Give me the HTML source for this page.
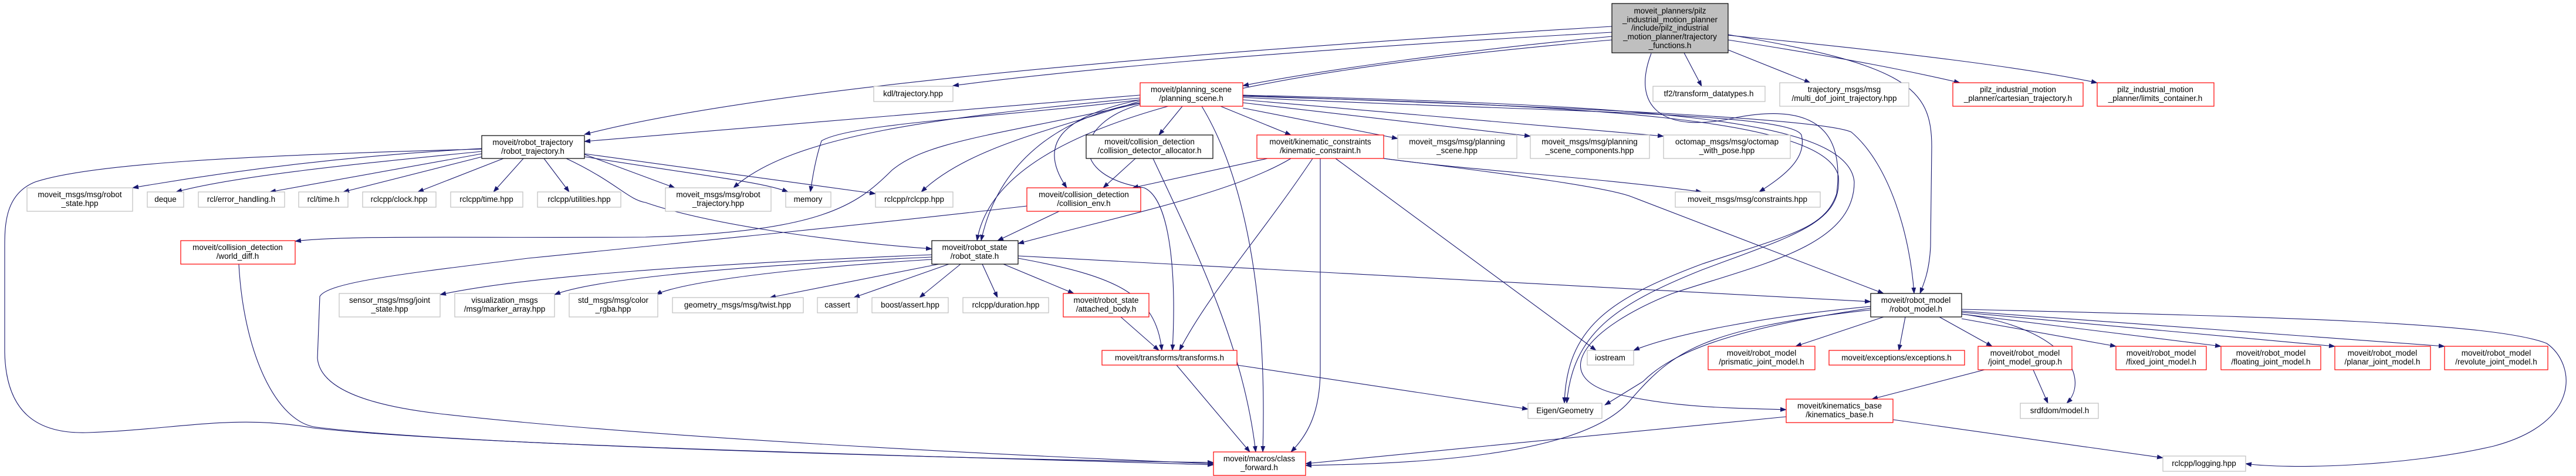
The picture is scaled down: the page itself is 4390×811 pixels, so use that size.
<!DOCTYPE html>
<html><head><meta charset="utf-8"><style>
html,body{margin:0;padding:0;background:#fff;}
svg{display:block;}
text{font-family:"Liberation Sans",sans-serif;font-size:13.5px;fill:#000;text-anchor:middle;}
.e{fill:none;stroke:#191970;stroke-width:1.1;marker-end:url(#a);}
.g{fill:#fff;stroke:#bfbfbf;stroke-width:1.2;}
.r{fill:#fff;stroke:#ff0000;stroke-width:1.2;}
.b{fill:#fff;stroke:#000;stroke-width:1.2;}
</style></head><body>
<svg width="4390" height="811" viewBox="0 0 4390 811" xmlns="http://www.w3.org/2000/svg">
<defs><marker id="a" markerWidth="11" markerHeight="8" refX="10" refY="4" orient="auto" markerUnits="userSpaceOnUse"><path d="M0,0 L11,4 L0,8 z" fill="#191970"/></marker></defs>

<!-- edges -->
<path class="e" d="M2747,45 C2000,90 1300,150 996,229"/>
<path class="e" d="M2747,55 C2300,80 1900,110 1624,146"/>
<path class="e" d="M2747,62 C2500,85 2250,120 2118,146"/>
<path class="e" d="M2747,68 C2150,120 1700,200 1665,410"/>
<path class="e" d="M2870,90 L2900,147"/>
<path class="e" d="M2945,85 L3085,141"/>
<path class="e" d="M2945,59 C3250,110 3292,150 3292,250 L3290,420 C3288,460 3280,480 3272,500"/>
<path class="e" d="M2945,68 C3150,100 3250,120 3340,141"/>
<path class="e" d="M2945,60 C3250,90 3450,115 3574,141"/>
<path class="e" d="M2814,91 C2780,180 2830,230 2960,200 C3120,170 3140,250 3130,330 C3110,390 3050,400 2900,450 C2740,510 2670,560 2666,687"/>

<path class="e" d="M821,253 C600,265 400,290 226,320"/>
<path class="e" d="M821,258 C600,280 400,300 300,327"/>
<path class="e" d="M821,262 L460,327"/>
<path class="e" d="M822,267 L585,327"/>
<path class="e" d="M858,270 L712,327"/>
<path class="e" d="M892,270 L841,327"/>
<path class="e" d="M927,270 L970,327"/>
<path class="e" d="M996,263 L1150,320"/>
<path class="e" d="M996,267 C1200,300 1300,310 1343,327"/>
<path class="e" d="M996,262 L1492,330"/>
<path class="e" d="M965,270 C1050,310 1070,340 1100,345 C1200,380 1400,410 1588,424"/>
<path class="e" d="M821,254 C400,265 150,280 60,310 C10,330 8,380 8,420 L8,600 C10,700 60,740 150,737 C300,732 400,705 533,729 C800,760 1700,780 2068,792"/>
<path class="e" d="M407,450 C415,600 470,720 540,728 C800,760 1700,783 2068,788"/>
<path class="e" d="M1750,351 C1500,380 1200,410 900,440 C700,465 560,480 545,505 L541,610 C545,660 620,690 750,705 C1100,745 1700,775 2068,790"/>

<path class="e" d="M1943,176 C1700,230 1580,240 1520,290 C1460,350 1400,395 1100,404 C800,406 600,400 503,411"/>
<path class="e" d="M1943,167 C1600,200 1350,230 1250,320"/>
<path class="e" d="M1943,170 C1700,200 1450,210 1400,240 C1390,270 1385,300 1381,327"/>
<path class="e" d="M1943,172 C1800,220 1650,250 1570,327"/>
<path class="e" d="M1943,162 L996,241"/>
<path class="e" d="M1943,175 C1800,200 1700,280 1672,410"/>
<path class="e" d="M2015,181 L1975,230"/>
<path class="e" d="M1943,170 C1800,200 1770,250 1818,320"/>
<path class="e" d="M1943,178 C1830,210 1820,300 1950,320 C1995,340 2005,470 1998,597"/>
<path class="e" d="M2048,181 C2120,300 2160,500 2152,770"/>
<path class="e" d="M2080,181 L2200,230"/>
<path class="e" d="M2118,184 L2382,236"/>
<path class="e" d="M2118,175 L2608,232"/>
<path class="e" d="M2118,170 L2835,232"/>
<path class="e" d="M2118,166 C2600,190 3050,190 3070,230 C3080,270 3040,300 2998,327"/>
<path class="e" d="M2118,163 C2600,180 3100,200 3155,225 C3220,280 3255,400 3262,500"/>
<path class="e" d="M2118,164 C2700,180 3110,200 3133,300 C3140,380 3060,400 2900,460 C2750,520 2680,570 2670,687"/>
<path class="e" d="M2118,162 C2800,180 3150,200 3160,310 C3160,420 3000,450 2850,500 C2700,560 2640,640 2750,670 C2850,695 2950,695 3044,698"/>

<path class="e" d="M1935,270 L1880,320"/>
<path class="e" d="M1965,270 C2050,450 2120,600 2140,770"/>
<path class="e" d="M2160,270 L1930,320"/>
<path class="e" d="M2200,270 C2100,330 1900,370 1735,415"/>
<path class="e" d="M2237,270 C2150,400 2060,500 2010,597"/>
<path class="e" d="M2250,270 L2250,630 C2250,700 2230,740 2200,770"/>
<path class="e" d="M2276,270 L2720,597"/>
<path class="e" d="M2358,270 C2500,290 2700,300 2900,327"/>
<path class="e" d="M2358,270 C2600,300 2740,320 2780,335 L3210,500"/>
<path class="e" d="M1805,360 L1700,410"/>

<path class="e" d="M1588,434 C1200,450 900,470 750,502"/>
<path class="e" d="M1588,438 C1200,455 1000,480 945,502"/>
<path class="e" d="M1588,442 C1300,460 1150,485 1118,502"/>
<path class="e" d="M1600,450 L1312,507"/>
<path class="e" d="M1617,450 L1455,507"/>
<path class="e" d="M1637,450 L1567,507"/>
<path class="e" d="M1674,450 L1700,507"/>
<path class="e" d="M1710,450 L1830,500"/>
<path class="e" d="M1735,440 C1900,470 1970,500 1980,597"/>
<path class="e" d="M1735,436 L3188,514"/>
<path class="e" d="M1910,540 L1975,597"/>
<path class="e" d="M2005,622 L2130,770"/>
<path class="e" d="M2108,622 L2604,697"/>

<path class="e" d="M3188,522 C3000,540 2850,570 2784,597"/>
<path class="e" d="M3210,540 L3060,590"/>
<path class="e" d="M3247,540 L3236,597"/>
<path class="e" d="M3305,540 L3395,590"/>
<path class="e" d="M3343,543 L3606,590"/>
<path class="e" d="M3343,535 L3785,590"/>
<path class="e" d="M3343,532 L3979,590"/>
<path class="e" d="M3343,530 L4166,590"/>
<path class="e" d="M3343,535 C3530,560 3560,650 3522,687"/>
<path class="e" d="M3343,527 C3900,540 4250,550 4340,585 C4390,620 4400,720 4250,760 C4100,795 3900,800 3827,790"/>
<path class="e" d="M3188,525 C2950,560 2850,600 2800,650 L2735,690"/>
<path class="e" d="M3188,528 C2900,560 2850,600 2780,680 C2700,780 2400,790 2225,793"/>
<path class="e" d="M3382,630 L3190,680"/>
<path class="e" d="M3465,630 L3490,687"/>
<path class="e" d="M3044,710 L2225,790"/>
<path class="e" d="M3226,715 L3686,780"/>

<!-- nodes -->
<rect x="2747" y="6" width="198" height="84" fill="#bfbfbf" stroke="#000" stroke-width="1.2"/>
<text x="2846" y="23">moveit_planners/pilz</text>
<text x="2846" y="38">_industrial_motion_planner</text>
<text x="2846" y="52">/include/pilz_industrial</text>
<text x="2846" y="67">_motion_planner/trajectory</text>
<text x="2846" y="82">_functions.h</text>

<rect class="b" x="821" y="231" width="175" height="39"/><text x="908" y="247">moveit/robot_trajectory</text><text x="908" y="262">/robot_trajectory.h</text>
<rect class="g" x="46" y="320" width="180" height="40"/><text x="136" y="336">moveit_msgs/msg/robot</text><text x="136" y="351">_state.hpp</text>
<rect class="g" x="251" y="327" width="62" height="26"/><text x="282" y="344">deque</text>
<rect class="g" x="338" y="327" width="147" height="26"/><text x="411" y="344">rcl/error_handling.h</text>
<rect class="g" x="509" y="327" width="84" height="26"/><text x="551" y="344">rcl/time.h</text>
<rect class="g" x="618" y="327" width="125" height="26"/><text x="680" y="344">rclcpp/clock.hpp</text>
<rect class="g" x="768" y="327" width="123" height="26"/><text x="829" y="344">rclcpp/time.hpp</text>
<rect class="g" x="916" y="327" width="142" height="26"/><text x="987" y="344">rclcpp/utilities.hpp</text>
<rect class="g" x="1134" y="320" width="180" height="40"/><text x="1224" y="336">moveit_msgs/msg/robot</text><text x="1224" y="351">_trajectory.hpp</text>
<rect class="g" x="1339" y="327" width="77" height="26"/><text x="1377" y="344">memory</text>
<rect class="g" x="1492" y="327" width="132" height="26"/><text x="1558" y="344">rclcpp/rclcpp.hpp</text>
<rect class="g" x="1489" y="147" width="135" height="26"/><text x="1556" y="164">kdl/trajectory.hpp</text>

<rect class="r" x="1943" y="141" width="175" height="40"/><text x="2030" y="157">moveit/planning_scene</text><text x="2030" y="172">/planning_scene.h</text>
<rect class="b" x="1851" y="230" width="216" height="40"/><text x="1959" y="246">moveit/collision_detection</text><text x="1959" y="261">/collision_detector_allocator.h</text>
<rect class="r" x="2142" y="230" width="216" height="40"/><text x="2250" y="246">moveit/kinematic_constraints</text><text x="2250" y="261">/kinematic_constraint.h</text>
<rect class="r" x="1750" y="320" width="194" height="40"/><text x="1847" y="336">moveit/collision_detection</text><text x="1847" y="351">/collision_env.h</text>
<rect class="r" x="308" y="410" width="195" height="40"/><text x="405" y="426">moveit/collision_detection</text><text x="405" y="441">/world_diff.h</text>
<rect class="b" x="1588" y="410" width="147" height="40"/><text x="1661" y="426">moveit/robot_state</text><text x="1661" y="441">/robot_state.h</text>

<rect class="g" x="578" y="500" width="172" height="40"/><text x="664" y="516">sensor_msgs/msg/joint</text><text x="664" y="531">_state.hpp</text>
<rect class="g" x="775" y="500" width="170" height="40"/><text x="860" y="516">visualization_msgs</text><text x="860" y="531">/msg/marker_array.hpp</text>
<rect class="g" x="970" y="500" width="151" height="40"/><text x="1045" y="516">std_msgs/msg/color</text><text x="1045" y="531">_rgba.hpp</text>
<rect class="g" x="1146" y="507" width="223" height="26"/><text x="1257" y="524">geometry_msgs/msg/twist.hpp</text>
<rect class="g" x="1393" y="507" width="68" height="26"/><text x="1427" y="524">cassert</text>
<rect class="g" x="1486" y="507" width="130" height="26"/><text x="1551" y="524">boost/assert.hpp</text>
<rect class="g" x="1641" y="507" width="146" height="26"/><text x="1714" y="524">rclcpp/duration.hpp</text>
<rect class="r" x="1812" y="500" width="146" height="40"/><text x="1885" y="516">moveit/robot_state</text><text x="1885" y="531">/attached_body.h</text>
<rect class="r" x="1878" y="597" width="230" height="25"/><text x="1993" y="614">moveit/transforms/transforms.h</text>
<rect class="r" x="2068" y="770" width="157" height="40"/><text x="2146" y="786">moveit/macros/class</text><text x="2146" y="801">_forward.h</text>

<rect class="g" x="2817" y="147" width="191" height="26"/><text x="2912" y="164">tf2/transform_datatypes.h</text>
<rect class="g" x="3033" y="141" width="220" height="40"/><text x="3143" y="157">trajectory_msgs/msg</text><text x="3143" y="172">/multi_dof_joint_trajectory.hpp</text>
<rect class="r" x="3328" y="141" width="222" height="40"/><text x="3439" y="157">pilz_industrial_motion</text><text x="3439" y="172">_planner/cartesian_trajectory.h</text>
<rect class="r" x="3574" y="141" width="199" height="40"/><text x="3673" y="157">pilz_industrial_motion</text><text x="3673" y="172">_planner/limits_container.h</text>

<rect class="g" x="2382" y="230" width="203" height="40"/><text x="2483" y="246">moveit_msgs/msg/planning</text><text x="2483" y="261">_scene.hpp</text>
<rect class="g" x="2608" y="230" width="203" height="40"/><text x="2709" y="246">moveit_msgs/msg/planning</text><text x="2709" y="261">_scene_components.hpp</text>
<rect class="g" x="2835" y="230" width="216" height="40"/><text x="2943" y="246">octomap_msgs/msg/octomap</text><text x="2943" y="261">_with_pose.hpp</text>
<rect class="g" x="2855" y="327" width="247" height="26"/><text x="2978" y="344">moveit_msgs/msg/constraints.hpp</text>

<rect class="b" x="3188" y="500" width="155" height="40"/><text x="3265" y="516">moveit/robot_model</text><text x="3265" y="531">/robot_model.h</text>
<rect class="g" x="2705" y="597" width="79" height="25"/><text x="2744" y="614">iostream</text>
<rect class="r" x="2911" y="590" width="182" height="40"/><text x="3002" y="606">moveit/robot_model</text><text x="3002" y="621">/prismatic_joint_model.h</text>
<rect class="r" x="3117" y="597" width="231" height="25"/><text x="3232" y="614">moveit/exceptions/exceptions.h</text>
<rect class="r" x="3371" y="590" width="160" height="40"/><text x="3451" y="606">moveit/robot_model</text><text x="3451" y="621">/joint_model_group.h</text>
<rect class="r" x="3606" y="590" width="154" height="40"/><text x="3683" y="606">moveit/robot_model</text><text x="3683" y="621">/fixed_joint_model.h</text>
<rect class="r" x="3785" y="590" width="170" height="40"/><text x="3870" y="606">moveit/robot_model</text><text x="3870" y="621">/floating_joint_model.h</text>
<rect class="r" x="3979" y="590" width="163" height="40"/><text x="4060" y="606">moveit/robot_model</text><text x="4060" y="621">/planar_joint_model.h</text>
<rect class="r" x="4166" y="590" width="176" height="40"/><text x="4254" y="606">moveit/robot_model</text><text x="4254" y="621">/revolute_joint_model.h</text>
<rect class="g" x="2604" y="687" width="126" height="26"/><text x="2667" y="704">Eigen/Geometry</text>
<rect class="r" x="3044" y="680" width="182" height="40"/><text x="3135" y="696">moveit/kinematics_base</text><text x="3135" y="711">/kinematics_base.h</text>
<rect class="g" x="3443" y="687" width="133" height="26"/><text x="3510" y="704">srdfdom/model.h</text>
<rect class="g" x="3686" y="777" width="141" height="26"/><text x="3756" y="794">rclcpp/logging.hpp</text>
</svg>
</body></html>
